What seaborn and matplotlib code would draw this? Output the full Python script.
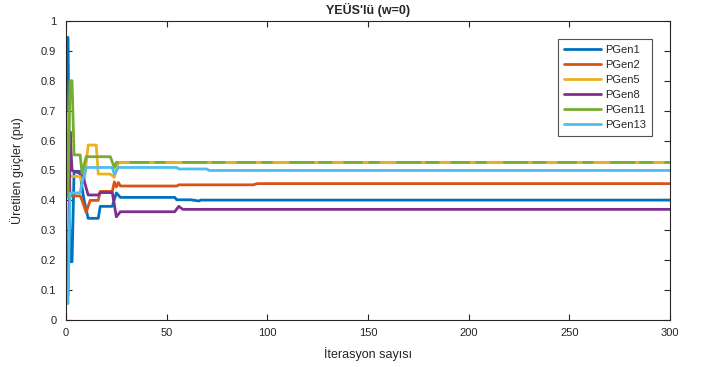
import pandas as pd
import matplotlib.pyplot as plt
import seaborn as sns

# ==================================================
# Data
# ==================================================
gen_names = ["PGen1", "PGen2", "PGen5", "PGen8", "PGen11", "PGen13"]
gen_colors = ["#0072BD", "#D95319", "#EDB120", "#7E2F8E", "#77AC30", "#4DBEEE"]

pgen1_x = [1, 2, 3, 4, 7, 8, 9, 11, 16, 17, 23, 25, 27, 54, 55, 62, 66, 67, 300]
pgen1_y = [0.945, 0.195, 0.195, 0.497, 0.497, 0.44, 0.40, 0.34, 0.34, 0.38, 0.38, 0.425, 0.41,
           0.41, 0.402, 0.402, 0.398, 0.401, 0.401]

pgen2_x = [1, 2, 7, 8, 10, 12, 16, 17, 23, 24, 25, 26, 27, 55, 56, 93, 95, 300]
pgen2_y = [0.685, 0.415, 0.415, 0.40, 0.36, 0.40, 0.40, 0.43, 0.43, 0.462, 0.445, 0.46, 0.448,
           0.448, 0.452, 0.452, 0.456, 0.456]

pgen5_x = [1, 2, 3, 7, 8, 9, 11, 15, 16, 22, 24, 26, 300]
pgen5_y = [0.69, 0.48, 0.48, 0.48, 0.46, 0.46, 0.585, 0.585, 0.488, 0.488, 0.477, 0.527, 0.527]

pgen8_x = [1, 2, 3, 7, 8, 11, 16, 17, 23, 25, 27, 54, 56, 58, 300]
pgen8_y = [0.083, 0.63, 0.50, 0.49, 0.49, 0.418, 0.418, 0.426, 0.426, 0.345, 0.362,
           0.362, 0.38, 0.37, 0.37]

pgen11_x = [1, 2, 3, 4, 7, 8, 10, 22, 24, 25, 300]
pgen11_y = [0.41, 0.80, 0.80, 0.552, 0.552, 0.49, 0.546, 0.546, 0.51, 0.527, 0.527]

pgen13_x = [1, 2, 3, 7, 8, 10, 23, 24, 26, 55, 56, 70, 71, 300]
pgen13_y = [0.055, 0.425, 0.425, 0.425, 0.46, 0.51, 0.51, 0.487, 0.51, 0.51, 0.505, 0.505,
            0.50, 0.50]

all_x = [pgen1_x, pgen2_x, pgen5_x, pgen8_x, pgen11_x, pgen13_x]
all_y = [pgen1_y, pgen2_y, pgen5_y, pgen8_y, pgen11_y, pgen13_y]

frames = []
for name, xs, ys in zip(gen_names, all_x, all_y):
    frames.append(pd.DataFrame({"iter": xs, "value": ys, "gen": name}))
df = pd.concat(frames, ignore_index=True)

# ==================================================
# Plot
# ==================================================
sns.set_theme(style="ticks")
plt.rcParams["font.family"] = ["Liberation Sans", "DejaVu Sans"]

fig = plt.figure(figsize=(7.06, 3.67), dpi=100)
ax = fig.add_axes([0.0935, 0.128, 0.8555, 0.815])

sns.lineplot(
    data=df,
    x="iter",
    y="value",
    hue="gen",
    hue_order=gen_names,
    palette=gen_colors,
    estimator=None,
    sort=False,
    linewidth=2,
    ax=ax
)

# PGen5 and PGen11 overlap after ~26 iterations: show yellow peeking through
tail = df[(df["gen"] == "PGen5") & (df["iter"] >= 26)]
sns.lineplot(
    data=tail,
    x="iter",
    y="value",
    color=gen_colors[2],
    estimator=None,
    sort=False,
    linewidth=2,
    legend=False,
    ax=ax
)
ax.lines[-1].set_dashes([4, 7, 2, 4, 6, 9, 1.5, 5])

ax.set_xlim(0, 300)
ax.set_ylim(0, 1)
ax.set_xticks(range(0, 301, 50))
ax.set_yticks([i / 10 for i in range(11)])
ax.set_yticklabels(["0"] + [f"{i / 10:g}" for i in range(1, 10)] + ["1"])

for spine in ax.spines.values():
    spine.set_visible(True)
    spine.set_color("#262626")
    spine.set_linewidth(0.8)

ax.tick_params(direction="in", top=True, right=True, length=4, width=0.8,
               labelsize=8, colors="#262626")
ax.tick_params(axis="x", pad=6)
ax.tick_params(axis="y", pad=7)

ax.set_title("YEÜS'lü (w=0)", fontsize=9, fontweight="bold", pad=5)
ax.set_xlabel("İterasyon sayısı", fontsize=9, labelpad=6)
ax.set_ylabel("Üretilen güçler (pu)", fontsize=9, labelpad=12)

leg = ax.legend(
    loc="upper right",
    bbox_to_anchor=(0.97, 0.94),
    fontsize=8,
    frameon=True,
    fancybox=False,
    edgecolor="#262626",
    handlelength=3.4,
    handletextpad=0.3,
    labelspacing=0.45,
    borderpad=0.55,
    borderaxespad=0.0,
    title=None
)
leg.get_frame().set_linewidth(0.8)
for line in leg.get_lines():
    line.set_linewidth(2)

fig.savefig("out.png", dpi=100)
